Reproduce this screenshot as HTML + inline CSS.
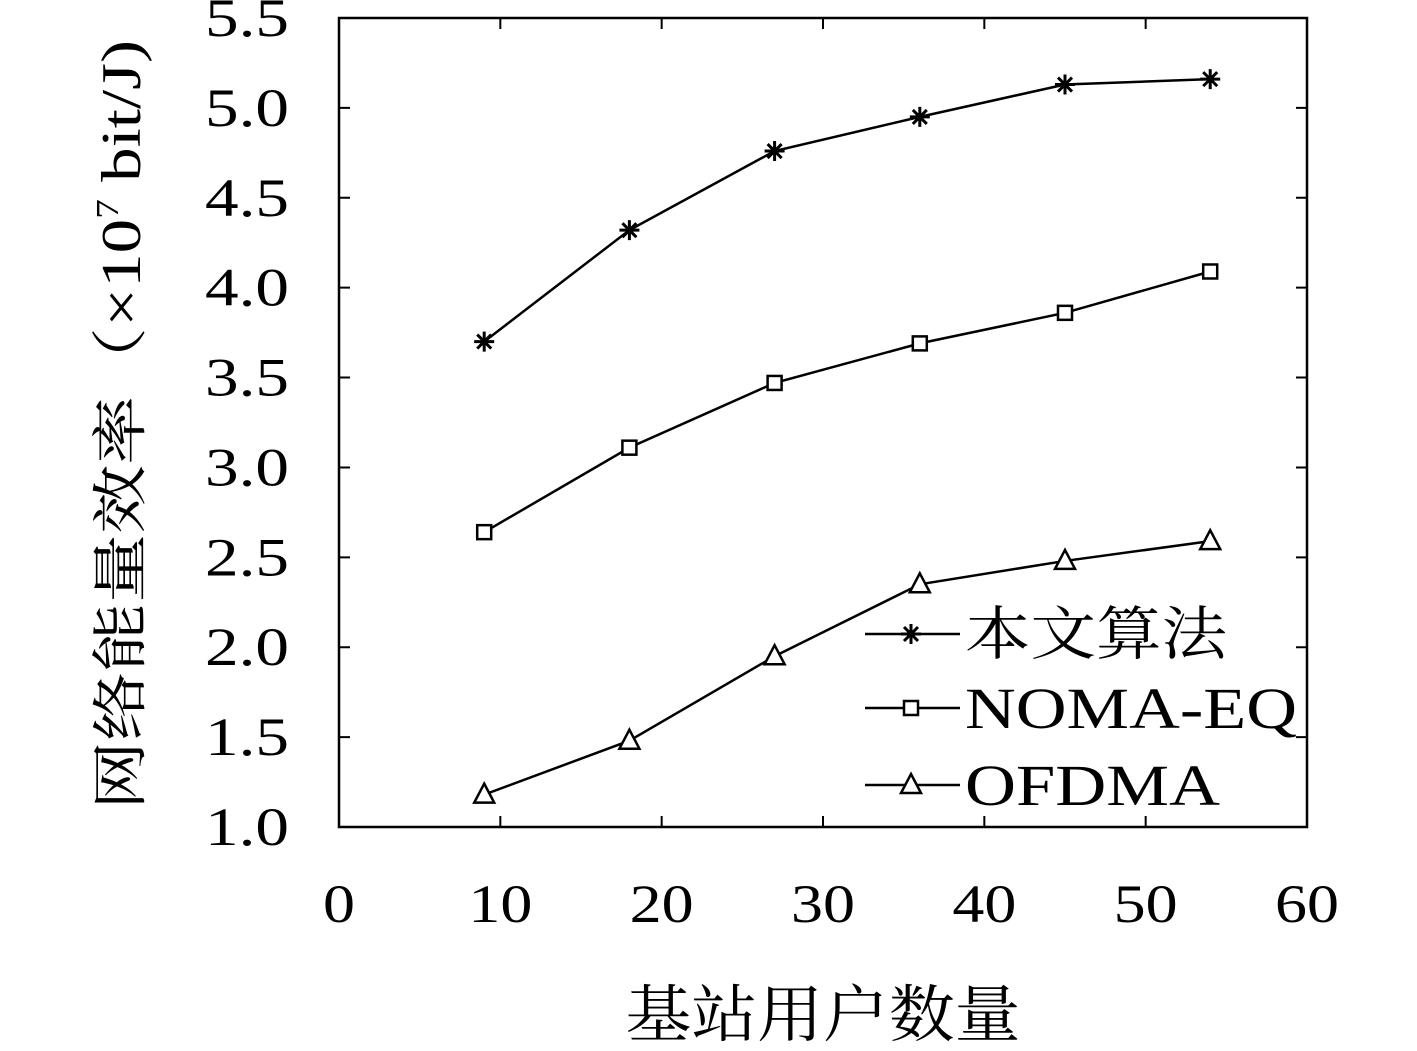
<!DOCTYPE html>
<html><head><meta charset="utf-8"><style>
html,body{margin:0;padding:0;background:#fff;}
svg{display:block;}
text{font-family:"Liberation Serif","Noto Serif CJK SC",serif;fill:#000;}
</style></head><body>
<svg id="chart" width="1417" height="1051" viewBox="0 0 1417 1051" xmlns="http://www.w3.org/2000/svg">
<g id="axes"></g>
<g id="series"></g>
<g id="legend"></g>
<text transform="translate(140,425) rotate(-90)" text-anchor="middle" font-size="56" textLength="770" lengthAdjust="spacingAndGlyphs">网络能量效率（×10<tspan font-size="32" dy="-22">7</tspan><tspan dy="22"> bit/J)</tspan></text>
<text x="823" y="1036" text-anchor="middle" font-size="62" textLength="395" lengthAdjust="spacingAndGlyphs">基站用户数量</text>
</svg>
<script>
const xValues = [9, 18, 27, 36, 45, 54];
const proposedValues = [3.70, 4.32, 4.76, 4.95, 5.13, 5.16];
const nomaEqValues = [2.64, 3.11, 3.47, 3.69, 3.86, 4.09];
const ofdmaValues = [1.18, 1.48, 1.95, 2.35, 2.48, 2.59];
const xTicks = [0, 10, 20, 30, 40, 50, 60];
const yTicks = [1.0, 1.5, 2.0, 2.5, 3.0, 3.5, 4.0, 4.5, 5.0, 5.5];
const seriesNames = ["本文算法", "NOMA-EQ", "OFDMA"];
const legendWidths = [262, 332, 255];

const NS = "http://www.w3.org/2000/svg";
const L = 339, R = 1307, T = 18, B = 827;
const X = v => L + (v - 0) / 60 * (R - L);
const Y = v => B - (v - 1.0) / 4.5 * (B - T);
function mk(tag, attrs, parent) {
  const e = document.createElementNS(NS, tag);
  for (const k in attrs) e.setAttribute(k, attrs[k]);
  parent.appendChild(e);
  return e;
}
const axes = document.getElementById("axes");
const frame = mk("rect", {x: L, y: T, width: R - L, height: B - T, fill: "none", stroke: "#000", "stroke-width": 2.5}, axes);


xTicks.forEach(t => {
  const x = X(t);
  const tk = mk("path", {d: `M${x},${B} v-11 M${x},${T} v11`, stroke: "#000", "stroke-width": 2}, axes);
  
  
  const w = String(t).length * 32;
  const lb = mk("text", {x: x, y: 922, "text-anchor": "middle", "font-size": 54, textLength: w, lengthAdjust: "spacingAndGlyphs"}, axes);
  
  
  lb.textContent = t;
});
yTicks.forEach(t => {
  const y = Y(t);
  const tk = mk("path", {d: `M${L},${y} h11 M${R},${y} h-11`, stroke: "#000", "stroke-width": 2}, axes);
  
  
  const lb = mk("text", {x: 205, y: y + 18, "text-anchor": "start", "font-size": 54, textLength: 84, lengthAdjust: "spacingAndGlyphs"}, axes);
  
  
  lb.textContent = t.toFixed(1);
});
function marker(type, x, y, parent) {
  let e;
  if (type === 0) {
    const s = 10;
    e = mk("path", {d: `M${x-s},${y} h${2*s} M${x},${y-s} v${2*s} M${x-7},${y-7} l14,14 M${x-7},${y+7} l14,-14`, stroke: "#000", "stroke-width": 3, fill: "none"}, parent);
  } else if (type === 1) {
    e = mk("rect", {x: x - 7, y: y - 7, width: 14, height: 14, stroke: "#000", "stroke-width": 2.5, fill: "#fff"}, parent);
  } else {
    e = mk("path", {d: `M${x},${y-11} L${x+10},${y+8} L${x-10},${y+8} Z`, stroke: "#000", "stroke-width": 2.5, fill: "#fff"}, parent);
  }
  
  
}
const sg = document.getElementById("series");
[proposedValues, nomaEqValues, ofdmaValues].forEach((vals, i) => {
  const d = vals.map((v, j) => (j ? "L" : "M") + X(xValues[j]) + "," + Y(v)).join(" ");
  const p = mk("path", {d: d, stroke: "#000", "stroke-width": 2.5, fill: "none"}, sg);
  
  
  vals.forEach((v, j) => marker(i, X(xValues[j]), Y(v), sg));
});
const lg = document.getElementById("legend");
const ly = [634, 708, 785];
seriesNames.forEach((n, i) => {
  const l = mk("path", {d: `M865,${ly[i]} H960`, stroke: "#000", "stroke-width": 2.5}, lg);
  
  
  marker(i, 911, ly[i], lg);
  const t = mk("text", {x: 965, y: ly[i] + 20, "font-size": 58, textLength: legendWidths[i], lengthAdjust: "spacingAndGlyphs"}, lg);
  
  
  t.textContent = n;
});
</script>
</body></html>
